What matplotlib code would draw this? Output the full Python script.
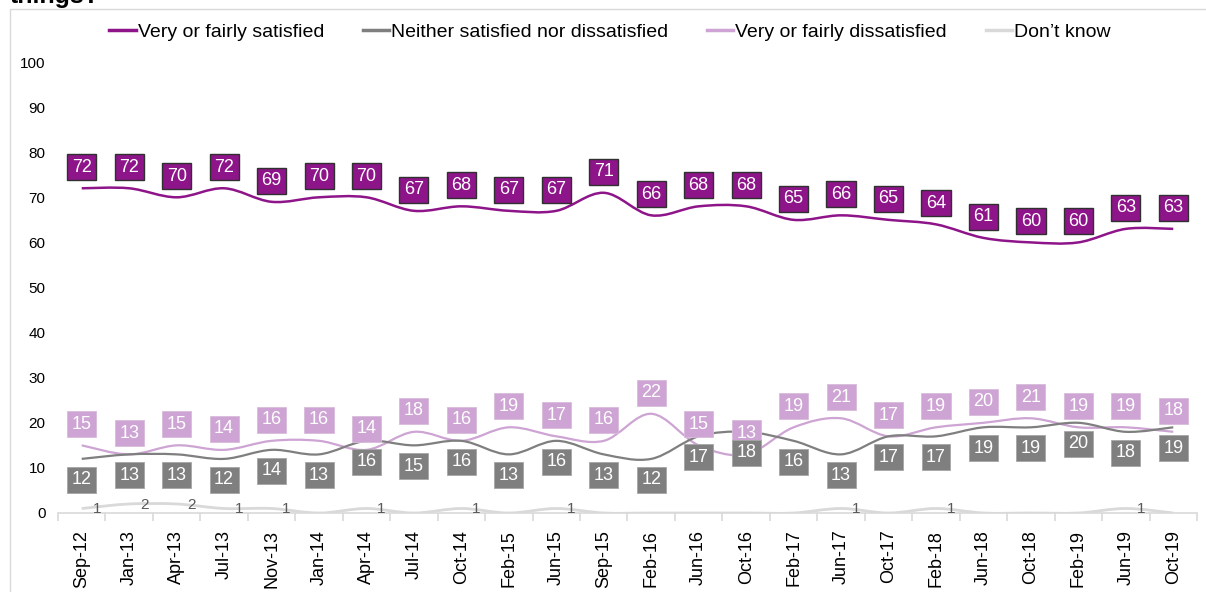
import matplotlib
matplotlib.use("Agg")
import matplotlib.pyplot as plt
from matplotlib.path import Path
from matplotlib.patches import PathPatch, Rectangle
from matplotlib.lines import Line2D

plt.rcParams['font.family'] = ['Liberation Sans', 'DejaVu Sans']

categories = ["Sep-12", "Jan-13", "Apr-13", "Jul-13", "Nov-13", "Jan-14", "Apr-14",
              "Jul-14", "Oct-14", "Feb-15", "Jun-15", "Sep-15", "Feb-16", "Jun-16",
              "Oct-16", "Feb-17", "Jun-17", "Oct-17", "Feb-18", "Jun-18", "Oct-18",
              "Feb-19", "Jun-19", "Oct-19"]
satisfied = [72, 72, 70, 72, 69, 70, 70, 67, 68, 67, 67, 71, 66, 68, 68, 65, 66, 65,
             64, 61, 60, 60, 63, 63]
neither = [12, 13, 13, 12, 14, 13, 16, 15, 16, 13, 16, 13, 12, 17, 18, 16, 13, 17,
           17, 19, 19, 20, 18, 19]
dissatisfied = [15, 13, 15, 14, 16, 16, 14, 18, 16, 19, 17, 16, 22, 15, 13, 19, 21, 17,
                19, 20, 21, 19, 19, 18]
dont_know = [1, 2, 2, 1, 1, 0, 1, 0, 1, 0, 1, 0, 0, 0, 0, 0, 1, 0, 1, 0, 0, 0, 1, 0]
series_names = ["Very or fairly satisfied", "Neither satisfied nor dissatisfied",
                "Very or fairly dissatisfied", "Don\u2019t know"]

C_SAT = "#8E1489"
C_NEI = "#7F7F7F"
C_DIS = "#CDA4D3"
C_DK = "#D9D9D9"

W, H = 1206, 592
fig = plt.figure(figsize=(W / 100, H / 100), dpi=100)
ax = fig.add_axes([58 / W, (H - 513) / H, (1197 - 58) / W, (513 - 62) / H])

x = list(range(len(categories)))


def smooth_path(xs, ys):
    n = len(xs)
    verts = [(xs[0], ys[0])]
    codes = [Path.MOVETO]
    for i in range(n - 1):
        p0 = i - 1 if i > 0 else i
        p3 = i + 2 if i + 2 < n else i + 1
        c1 = (xs[i] + (xs[i + 1] - xs[p0]) / 6, ys[i] + (ys[i + 1] - ys[p0]) / 6)
        c2 = (xs[i + 1] - (xs[p3] - xs[i]) / 6, ys[i + 1] - (ys[p3] - ys[i]) / 6)
        verts += [c1, c2, (xs[i + 1], ys[i + 1])]
        codes += [Path.CURVE4] * 3
    return Path(verts, codes)


for vals, col, lw, z in [(dont_know, C_DK, 2.0, 2), (dissatisfied, C_DIS, 1.6, 3),
                         (neither, C_NEI, 1.6, 3), (satisfied, C_SAT, 1.8, 3)]:
    ax.add_patch(PathPatch(smooth_path(x, vals), fill=False, edgecolor=col, lw=lw,
                           zorder=z, capstyle='butt'))

box_kw = dict(fontsize=13, color='white', ha='center', va='center',
              textcoords='offset pixels', annotation_clip=False, zorder=6)
for i, v in enumerate(satisfied):
    ax.annotate(str(v), (i, v), xytext=(0, 21), **box_kw,
                bbox=dict(boxstyle='square,pad=0.25', fc=C_SAT, ec='#303030', lw=1.0))
for i, v in enumerate(dissatisfied):
    ax.annotate(str(v), (i, v), xytext=(0, 21), **box_kw,
                bbox=dict(boxstyle='square,pad=0.25', fc=C_DIS, ec='#D8BCDC', lw=0.6))
for i, v in enumerate(neither):
    ax.annotate(str(v), (i, v), xytext=(0, -21), **box_kw,
                bbox=dict(boxstyle='square,pad=0.25', fc=C_NEI, ec='#A6A6A6', lw=0.6))
for i, v in enumerate(dont_know):
    if v > 0:
        ax.annotate(str(v), (i, v), xytext=(15, -1), textcoords='offset pixels',
                    fontsize=11, color='#595959', ha='center', va='center', zorder=6,
                    annotation_clip=False)

ax.set_xlim(-0.5, len(categories) - 0.5)
ax.set_ylim(0, 100)
ax.set_yticks(range(0, 101, 10))
ax.tick_params(axis='y', length=0, pad=9, labelsize=11, labelcolor='#000000')
ax.set_xticks(x)
ax.set_xticklabels(categories, rotation=90, fontsize=13)
ax.set_xticks([i - 0.5 for i in range(len(categories) + 1)], minor=True)
ax.tick_params(axis='x', which='major', length=0, pad=12)
ax.tick_params(axis='x', which='minor', length=6, color=C_DK, width=1.2)
for s in ['left', 'right', 'top']:
    ax.spines[s].set_visible(False)
ax.spines['bottom'].set_color(C_DK)
ax.spines['bottom'].set_linewidth(1.2)

handles = [Line2D([], [], color=C_SAT, lw=2.5), Line2D([], [], color=C_NEI, lw=2.5),
           Line2D([], [], color=C_DIS, lw=2.5), Line2D([], [], color=C_DK, lw=2.5)]
fig.legend(handles, series_names, loc='center', bbox_to_anchor=(610 / W, 1 - 32 / H),
           ncol=4, frameon=False, fontsize=14, handlelength=1.35, handletextpad=0.1,
           columnspacing=2.0, borderaxespad=0)

fig.patches.append(Rectangle((10 / W, -0.05), 1.0, (H - 9) / H + 0.05,
                             transform=fig.transFigure, fill=False,
                             edgecolor='#D9D9D9', lw=1.0))
fig.text(10 / W, 1 - 3 / H, "things?", fontsize=18, fontweight='bold',
         ha='left', va='baseline')

fig.savefig("out.png", dpi=100)
